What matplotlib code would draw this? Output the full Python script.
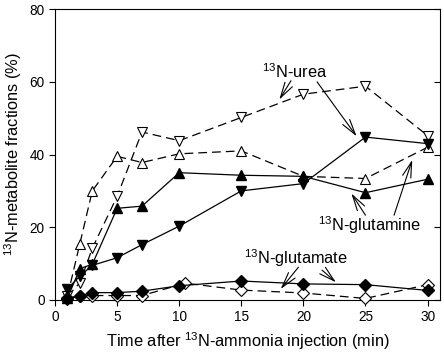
import numpy as np
import matplotlib
matplotlib.use("Agg")
import matplotlib.pyplot as plt
from matplotlib import font_manager

names = set(f.name for f in font_manager.fontManager.ttflist)
base = 'Liberation Sans Narrow' if 'Liberation Sans Narrow' in names else 'Liberation Sans'
plt.rcParams['font.family'] = [base, 'DejaVu Sans']
plt.rcParams['mathtext.fontset'] = 'custom'
plt.rcParams['mathtext.rm'] = base
plt.rcParams['mathtext.default'] = 'regular'
narrow = base == 'Liberation Sans Narrow'
fs_lab = 13 if narrow else 11.8
fs_tick = 10.5 if narrow else 9.8

# time points (min)
t = [1, 2, 3, 5, 7, 10, 15, 20, 25, 30]
t_glu_open = [1, 2, 3, 5, 7, 10.5, 15, 20, 25, 30]

# urea
urea_open = [1.0, 4.7, 14.2, 28.5, 46.2, 43.8, 50.2, 56.6, 58.8, 45.2]
urea_filled = [3.0, 6.6, 9.5, 11.6, 15.2, 20.3, 30.0, 32.0, 44.8, 43.0]
# glutamine
gln_open = [1.0, 15.5, 30.0, 39.5, 37.8, 40.2, 41.0, 34.0, 33.4, 42.0]
gln_filled = [0.5, 8.6, 9.8, 25.2, 25.8, 35.0, 34.3, 34.0, 29.5, 33.2]
# glutamate
glu_open = [0.3, 1.0, 1.2, 1.2, 1.2, 4.6, 2.7, 1.9, 0.4, 4.2]
glu_filled = [0.5, 1.2, 2.0, 2.0, 2.4, 3.9, 5.2, 4.4, 4.2, 2.6]

fig = plt.figure(figsize=(4.44, 3.52), dpi=100)
ax = fig.add_axes([0.124, 0.148, 0.867, 0.826])

lw = 0.9
dash = (0, (7, 4))
ax.plot(t, urea_open, color='black', lw=lw, linestyle=dash, marker='v', ms=7,
        mfc='white', mec='black', mew=0.8, clip_on=False, zorder=3)
ax.plot(t, gln_open, color='black', lw=lw, linestyle=dash, marker='^', ms=7,
        mfc='white', mec='black', mew=0.8, clip_on=False, zorder=3)
ax.plot(t, gln_filled, color='black', lw=lw, linestyle='-', marker='^', ms=7,
        mfc='black', mec='black', clip_on=False, zorder=4)
ax.plot(t, urea_filled, color='black', lw=lw, linestyle='-', marker='v', ms=7,
        mfc='black', mec='black', clip_on=False, zorder=4)
ax.plot(t_glu_open, glu_open, color='black', lw=lw, linestyle=dash, marker='D', ms=6,
        mfc='white', mec='black', mew=0.8, clip_on=False, zorder=3)
ax.plot(t, glu_filled, color='black', lw=lw, linestyle='-', marker='D', ms=6,
        mfc='black', mec='black', clip_on=False, zorder=4)

ax.set_xlim(0, 31)
ax.set_ylim(0, 80)
ax.set_xticks([0, 5, 10, 15, 20, 25, 30])
ax.set_yticks([0, 20, 40, 60, 80])
ax.tick_params(axis='both', direction='out', length=4, width=0.8, labelsize=fs_tick)
ax.tick_params(axis='y', right=True, which='both')
for s in ax.spines.values():
    s.set_linewidth(0.8)

# right ticks point inward
for tk in ax.yaxis.get_major_ticks():
    tk.tick2line.set_marker(matplotlib.lines.TICKLEFT)

ax.set_xlabel('Time after $^{13}$N-ammonia injection (min)', fontsize=fs_lab, labelpad=4)
ax.set_ylabel('$^{13}$N-metabolite fractions (%)', fontsize=fs_lab, labelpad=4)

arr = dict(arrowstyle='->,head_length=0.8,head_width=0.22', color='black', lw=0.8,
           mutation_scale=14, shrinkA=0, shrinkB=1)
ax.text(19.3, 62.7, '$^{13}$N-urea', fontsize=fs_lab, ha='center', va='center')
ax.annotate('', xy=(18.0, 54.8), xytext=(19.0, 60.3), arrowprops=arr)
ax.annotate('', xy=(24.35, 44.7), xytext=(21.1, 60.0), arrowprops=arr)

ax.text(25.3, 20.5, '$^{13}$N-glutamine', fontsize=fs_lab, ha='center', va='center')
ax.annotate('', xy=(23.8, 29.6), xytext=(25.0, 23.3), arrowprops=arr)
ax.annotate('', xy=(28.8, 38.9), xytext=(27.3, 23.3), arrowprops=arr)

ax.text(19.4, 11.5, '$^{13}$N-glutamate', fontsize=fs_lab, ha='center', va='center')
ax.annotate('', xy=(18.1, 2.7), xytext=(19.6, 9.0), arrowprops=arr)
ax.annotate('', xy=(22.7, 4.6), xytext=(21.5, 8.2), arrowprops=arr)

fig.savefig('out.png', dpi=100)
